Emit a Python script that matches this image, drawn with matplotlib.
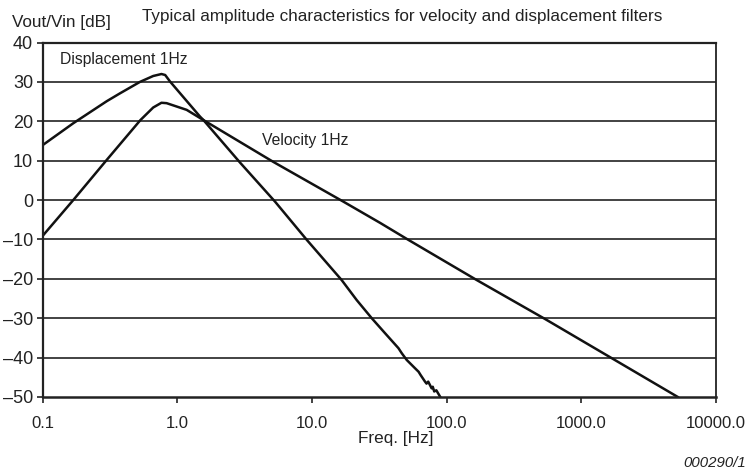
import matplotlib
matplotlib.use("Agg")
import matplotlib.pyplot as plt
from matplotlib.ticker import FixedLocator, NullLocator

plt.rcParams['font.family'] = ['Liberation Sans', 'DejaVu Sans']

# Displacement 1Hz filter
disp_freq = [0.1, 0.168, 0.298, 0.374, 0.526, 0.66, 0.76, 0.81, 0.88, 1.47, 1.56,
             2.92, 5.31, 9.14, 16.6, 21.5, 27.8, 34.9, 43.9, 46.5, 50.6, 58.3,
             62.0, 64.1, 69.2, 71.0, 73.1, 77.5, 79.0, 81.0, 84.0, 89.5]
disp_db = [14.0, 19.5, 25.1, 27.1, 30.0, 31.5, 32.0, 31.75, 30.1, 21.2, 20.3,
           9.5, -0.4, -10.1, -20.3, -25.4, -30.0, -33.8, -37.6, -38.9, -40.6, -42.7,
           -43.6, -44.4, -46.1, -46.6, -46.1, -47.8, -47.4, -48.6, -48.3, -49.9]

# Velocity 1Hz filter
vel_freq = [0.1, 0.168, 0.298, 0.53, 0.66, 0.76, 0.83, 1.17, 1.56, 5.15, 17.1,
            32.1, 52.0, 167.5, 540.0, 5240.0]
vel_db = [-9.0, 0.0, 10.2, 20.3, 23.5, 24.7, 24.6, 22.9, 20.3, 9.7, -0.4,
          -5.8, -10.1, -20.3, -30.2, -50.0]

x_ticks = [0.1, 1.0, 10.0, 100.0, 1000.0, 10000.0]
x_labels = ["0.1", "1.0", "10.0", "100.0", "1000.0", "10000.0"]
y_ticks = [-50, -40, -30, -20, -10, 0, 10, 20, 30, 40]

TXT = '#222222'

fig = plt.figure(figsize=(7.46, 4.76), dpi=100)
ax = fig.add_axes([0.0576, 0.166, 0.9016, 0.7447])

ax.plot(disp_freq, disp_db, color='#111111', lw=1.8, solid_joinstyle='round')
ax.plot(vel_freq, vel_db, color='#111111', lw=1.8, solid_joinstyle='round')

ax.set_xscale('log')
ax.set_xlim(0.1, 10000)
ax.set_ylim(-50, 40)
ax.xaxis.set_major_locator(FixedLocator(x_ticks))
ax.xaxis.set_minor_locator(NullLocator())
ax.set_xticklabels(x_labels)
ax.set_yticks(y_ticks)
ax.set_yticklabels([("\u2013" + str(-v)) if v < 0 else str(v) for v in y_ticks])

for y in y_ticks[1:-1]:
    ax.axhline(y, color='#222222', lw=1.2, zorder=0)

for s in ax.spines.values():
    s.set_color('#222222')
    s.set_linewidth(1.3)
ax.spines['left'].set_linewidth(1.6)
ax.spines['bottom'].set_linewidth(1.8)
ax.spines['top'].set_linewidth(1.6)

ax.tick_params(axis='both', direction='out', length=4, width=1.2, color='#222222',
               labelcolor=TXT, pad=3)
ax.tick_params(axis='x', labelsize=12, pad=10)
ax.tick_params(axis='y', labelsize=13, pad=3)

ax.text(0.134, 35.6, "Displacement 1Hz", fontsize=11.3, color=TXT, va='center', ha='left')
ax.text(4.25, 15.0, "Velocity 1Hz", fontsize=11.3, color=TXT, va='center', ha='left')

fig.text(12/746, 1 - 22/476, "Vout/Vin [dB]", fontsize=12.3, color=TXT, va='center', ha='left')
fig.text(142/746, 1 - 16/476, "Typical amplitude characteristics for velocity and displacement filters",
         fontsize=12.3, color=TXT, va='center', ha='left')
fig.text(396/746, 1 - 438/476, "Freq. [Hz]", fontsize=12.3, color=TXT, va='center', ha='center')
fig.text(1.0, 1 - 463/476, "000290/1", fontsize=10.8, color=TXT, va='center', ha='right',
         style='italic')

fig.savefig("out.png", dpi=100)
